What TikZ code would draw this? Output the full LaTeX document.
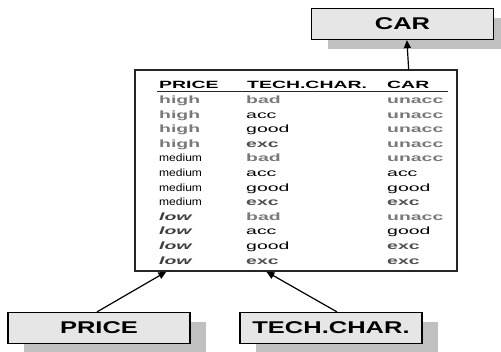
\documentclass[tikz,border=0pt]{standalone}
\usepackage{graphicx}
\usepackage{fontspec}
\setmainfont{Liberation Sans}
\newfontfamily\tabfont{Liberation Sans}[FakeStretch=1.85]
\newfontfamily\boxfont{Liberation Sans}[FakeStretch=1.5]
\usetikzlibrary{arrows.meta,shadows}
\definecolor{boxfill}{HTML}{E6E6E6}
\definecolor{shadowgray}{HTML}{C0C0C0}
\definecolor{lightval}{HTML}{7A7A7A}
\definecolor{darkval}{HTML}{505050}
\definecolor{lowval}{HTML}{404040}
\begin{document}
\begin{tikzpicture}[x=1pt,y=-1pt,
  labelbox/.style={draw=black, line width=1.2pt, fill=boxfill, minimum width=182pt,
    minimum height=31pt, inner sep=0pt,
    general shadow={fill=shadowgray, shadow xshift=16pt, shadow yshift=-9pt},
    font=\boxfont\bfseries\fontsize{17}{20}\selectfont},
  tablebox/.style={draw=black!85, line width=1.3pt, fill=white, minimum width=322pt,
    minimum height=201pt, inner sep=0pt},
  arr/.style={-{Triangle[length=8pt,width=7pt]}, line width=1.2pt},
  cell/.style={anchor=base west, inner sep=0pt, font=\tabfont\fontsize{10.5}{12}\selectfont},
  hdr/.style={cell, font=\tabfont\bfseries\fontsize{10.5}{12}\selectfont},
  sgray/.style={cell, text=lightval, font=\tabfont\bfseries\fontsize{10.5}{12}\selectfont},
  sreg/.style={cell, text=black},
  sdark/.style={cell, text=darkval, font=\tabfont\bfseries\fontsize{10.5}{12}\selectfont},
  slow/.style={cell, text=lowval, font=\tabfont\bfseries\itshape\fontsize{10.5}{12}\selectfont}
]
\useasboundingbox (0,0) rectangle (501,351);

% boxes
\node[labelbox] (car) at (402.5,24) {CAR};
\node[tablebox] (tab) at (296,170.5) {};
\node[labelbox] (price) at (99,328) {PRICE};
\node[labelbox] (tech) at (331,328) {TECH.CHAR.};

% header
\node[hdr] (h1) at (159,88) {PRICE};
\node[hdr] (h2) at (247,88) {TECH.CHAR.};
\node[hdr] (h3) at (387,88) {CAR};
\coordinate (ul1) at (157,91);
\coordinate (ul2) at (448,91);
\draw[line width=1pt, black!85] (ul1) -- (ul2);

% rows
\foreach \i/\sa/\ta/\sb/\tb/\sc/\tc in {
  1/sgray/high/sgray/bad/sgray/unacc,
  2/sgray/high/sreg/acc/sgray/unacc,
  3/sgray/high/sreg/good/sgray/unacc,
  4/sgray/high/sdark/exc/sgray/unacc,
  5/sreg/{\scalebox{0.62}[1]{medium}}/sgray/bad/sgray/unacc,
  6/sreg/{\scalebox{0.62}[1]{medium}}/sreg/acc/sreg/acc,
  7/sreg/{\scalebox{0.62}[1]{medium}}/sreg/good/sreg/good,
  8/sreg/{\scalebox{0.62}[1]{medium}}/sdark/exc/sdark/exc,
  9/slow/low/sgray/bad/sgray/unacc,
  10/slow/low/sreg/acc/sreg/good,
  11/slow/low/sreg/good/sdark/exc,
  12/slow/low/sdark/exc/sdark/exc}{
  \pgfmathsetmacro{\yy}{103.5+14.6*(\i-1)}
  \node[\sa] (a\i) at (159,\yy) {\ta};
  \node[\sb] (b\i) at (246,\yy) {\tb};
  \node[\sc] (c\i) at (387,\yy) {\tc};
}

% connectors
\draw[arr] ([xshift=-49pt]tab.north east) -- ([xshift=96pt]car.south west);
\draw[arr] ([xshift=-2pt]price.north) -- ([xshift=32pt]tab.south west);
\draw[arr] ([xshift=6pt]tech.north) -- ([xshift=132pt]tab.south west);
\end{tikzpicture}
\end{document}
